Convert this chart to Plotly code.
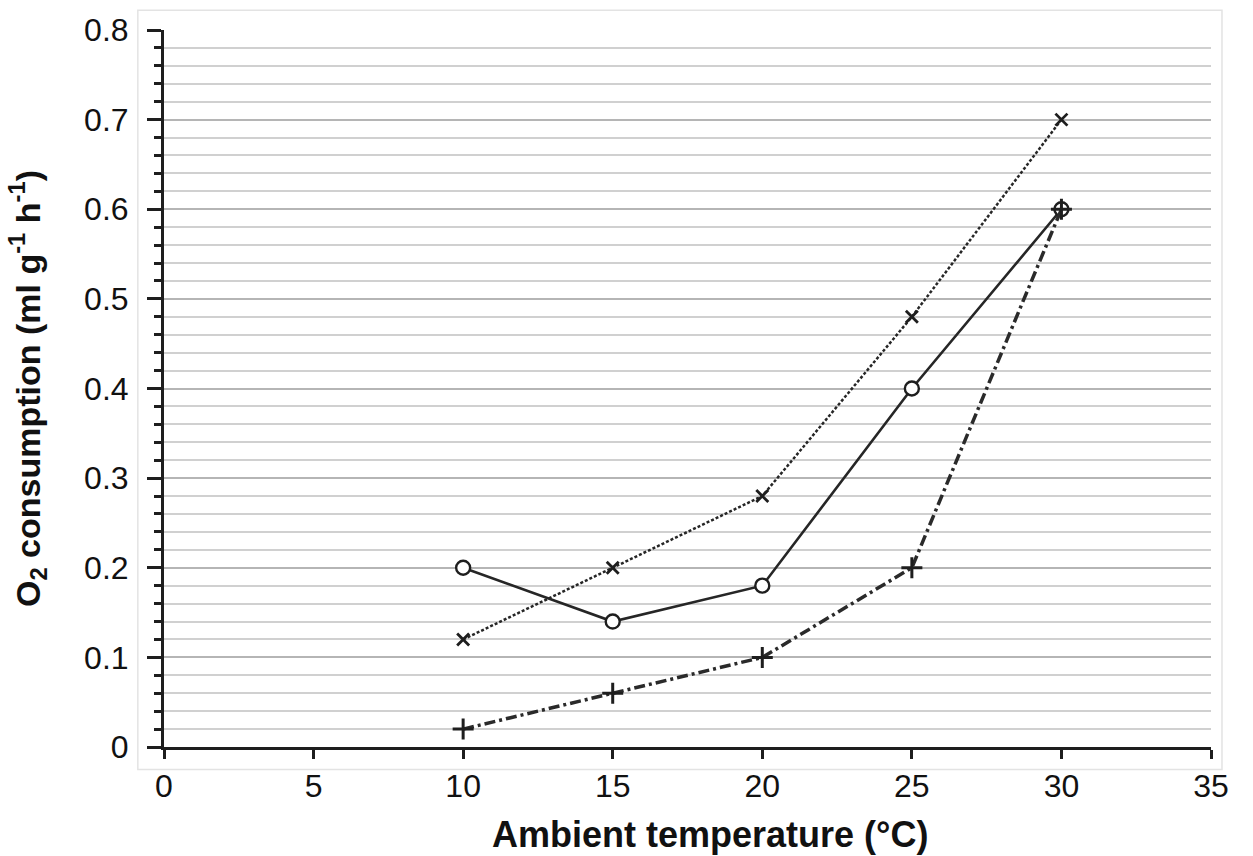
import plotly.graph_objects as go

temps = [10, 15, 20, 25, 30]
o2_circle = [0.20, 0.14, 0.18, 0.40, 0.60]
o2_x = [0.12, 0.20, 0.28, 0.48, 0.70]
o2_plus = [0.02, 0.06, 0.10, 0.20, 0.60]

x_ticks = [0, 5, 10, 15, 20, 25, 30, 35]
y_ticks = [0, 0.1, 0.2, 0.3, 0.4, 0.5, 0.6, 0.7, 0.8]
y_tick_labels = ["0", "0.1", "0.2", "0.3", "0.4", "0.5", "0.6", "0.7", "0.8"]

INK = "#1e1e1e"
FONT = "Liberation Sans, Arial, sans-serif"

fig = go.Figure()

fig.add_trace(go.Scatter(
    x=temps, y=o2_x, mode="lines+markers",
    line=dict(color="#262626", width=2.5, dash="3px,2px"),
    marker=dict(symbol="x-thin", size=12, line=dict(color=INK, width=2.8)),
    showlegend=False,
))
fig.add_trace(go.Scatter(
    x=temps, y=o2_circle, mode="lines+markers",
    line=dict(color="#262626", width=2.6),
    marker=dict(symbol="circle", size=14, color="white", line=dict(color=INK, width=2.4)),
    showlegend=False,
))
fig.add_trace(go.Scatter(
    x=temps, y=o2_plus, mode="lines+markers",
    line=dict(color="#2a2a2a", width=3.5, dash="11px,4px,3px,4px"),
    marker=dict(symbol="cross-thin", size=15, line=dict(color=INK, width=3)),
    showlegend=False,
))

# light chart-area border
fig.add_shape(type="rect", xref="paper", yref="paper",
              x0=-0.025, x1=1.0105, y0=-0.0315, y1=1.0275,
              line=dict(color="#e3e3e3", width=1.5), layer="below")

# x-axis title (placed as annotation, slightly right of centre as in the original)
fig.add_annotation(
    text="<b>Ambient temperature (°C)</b>", xref="paper", yref="paper",
    x=0.5215, y=-0.0905, xanchor="center", yanchor="top", showarrow=False,
    font=dict(size=36, family=FONT, color="#111111"),
)

fig.update_layout(
    width=1253, height=856,
    margin=dict(l=164, r=42, t=26, b=109),
    paper_bgcolor="white", plot_bgcolor="white",
    font=dict(family=FONT, color="#111111"),
    xaxis=dict(
        range=[0, 35], tickvals=x_ticks, ticktext=[str(v) for v in x_ticks],
        showgrid=False, zeroline=False,
        showline=True, linecolor=INK, linewidth=3,
        ticks="outside", ticklen=9, tickwidth=3, tickcolor=INK,
        tickfont=dict(size=32, family=FONT, color="#111111"),
    ),
    yaxis=dict(
        range=[0, 0.8], tickvals=y_ticks, ticktext=y_tick_labels,
        showgrid=True, gridcolor="#b5b5b5", gridwidth=2,
        zeroline=False,
        showline=True, linecolor=INK, linewidth=3,
        ticks="outside", ticklen=14, tickwidth=3, tickcolor=INK,
        ticklabelstandoff=12,
        tickfont=dict(size=32, family=FONT, color="#111111"),
        minor=dict(dtick=0.02, tick0=0, showgrid=True, gridcolor="#d0d0d0", gridwidth=2,
                   ticks="outside", ticklen=7, tickwidth=3, tickcolor=INK),
        title=dict(text="<b>O<sub>2</sub> consumption (ml g<sup>-1</sup> h<sup>-1</sup>)</b>",
                   font=dict(size=34, family=FONT, color="#111111"), standoff=34),
    ),
)

fig.write_html("out.html")
